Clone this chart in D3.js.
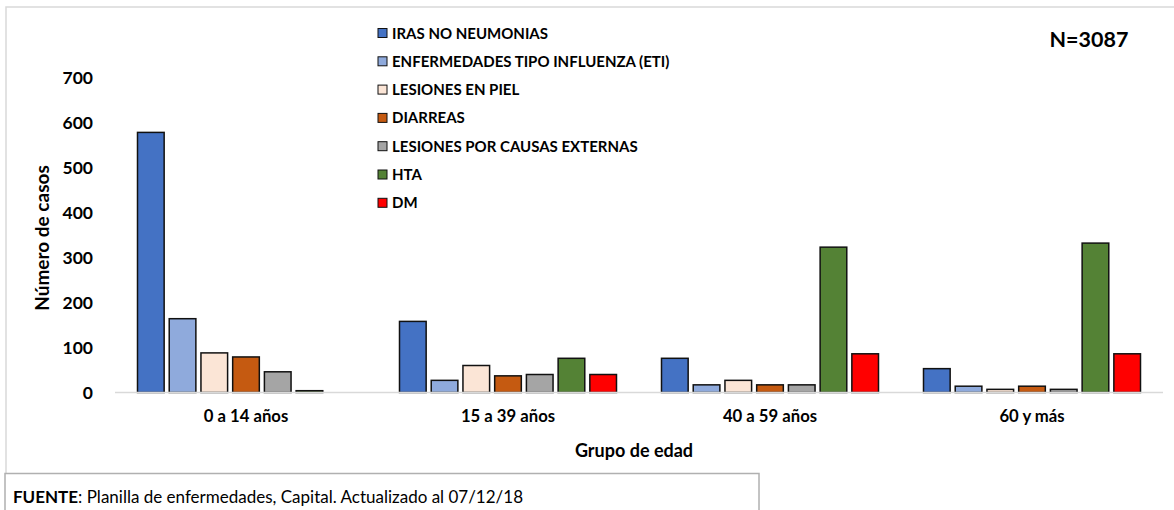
<!DOCTYPE html>
<html>
<head>
<meta charset="utf-8">
<script src="https://cdn.jsdelivr.net/npm/d3@7"></script>
<style>
  body { margin: 0; background: #fff; }
  svg { font-family: Lato, "Open Sans", sans-serif; }
</style>
</head>
<body>
<svg id="chart" width="1174" height="510"></svg>
<script>
const groups = ['0 a 14 años', '15 a 39 años', '40 a 59 años', '60 y más'];
const seriesNames = ['IRAS NO NEUMONIAS', 'ENFERMEDADES TIPO INFLUENZA (ETI)', 'LESIONES EN PIEL', 'DIARREAS', 'LESIONES POR CAUSAS EXTERNAS', 'HTA', 'DM'];
const seriesColors = ['#4472C4', '#8FAADC', '#FBE5D6', '#C55A11', '#A5A5A5', '#548235', '#FF0000'];
// values per series, one per age group
const iras = [578, 158, 76, 53];
const eti = [164, 27, 17, 14];
const piel = [88, 60, 27, 7];
const diarreas = [79, 37, 17, 14];
const externas = [46, 40, 17, 7];
const hta = [4, 76, 323, 332];
const dm = [0, 40, 86, 86];
const yTicks = [0, 100, 200, 300, 400, 500, 600, 700];

const allSeries = [iras, eti, piel, diarreas, externas, hta, dm];
const svg = d3.select('#chart');

// outer chart border
svg.append('rect').attr('x', 6).attr('y', 7).attr('width', 1180).attr('height', 520)
  .attr('fill', 'none').attr('stroke', '#d9d9d9').attr('stroke-width', 1.5);

const x0 = d3.scaleBand().domain(groups).range([115, 1163]);
const x1 = d3.scaleBand().domain(d3.range(seriesNames.length))
  .range([22.5, x0.bandwidth() - 22.5]).paddingInner(0.16);
const y = d3.scaleLinear().domain([0, 700]).range([392.5, 77.5]);

// y axis labels only
const yAxis = svg.append('g').attr('transform', 'translate(100,0)')
  .call(d3.axisLeft(y).tickValues(yTicks).tickSize(0).tickPadding(7));
yAxis.select('.domain').remove();
yAxis.selectAll('text').attr('font-family', 'Lato, sans-serif').attr('font-size', 17.5)
  .attr('font-weight', 'bold').attr('fill', '#000');

svg.append('text').attr('transform', 'translate(49,238) rotate(-90)')
  .attr('text-anchor', 'middle').attr('font-size', 19).attr('font-weight', 'bold')
  .text('Número de casos');

// bars
const data = [];
groups.forEach((g, gi) => {
  allSeries.forEach((s, si) => {
    if (s[gi] > 0) data.push({ group: g, si, value: s[gi] });
  });
});
svg.append('g').selectAll('rect').data(data).join('rect')
  .attr('x', d => x0(d.group) + x1(d.si))
  .attr('width', x1.bandwidth())
  .attr('y', d => y(d.value))
  .attr('height', d => y(0) - y(d.value))
  .attr('fill', d => seriesColors[d.si])
  .attr('stroke', '#111').attr('stroke-width', 1.5);

// baseline
svg.append('line').attr('x1', 115).attr('x2', 1163).attr('y1', y(0)).attr('y2', y(0))
  .attr('stroke', '#d9d9d9').attr('stroke-width', 1.5);

// x axis labels
const xAxis = svg.append('g').attr('transform', `translate(0,${y(0)})`)
  .call(d3.axisBottom(x0).tickSize(0).tickPadding(18));
xAxis.select('.domain').remove();
xAxis.selectAll('text').attr('font-family', 'Lato, sans-serif').attr('font-size', 16.7)
  .attr('font-weight', 'bold').attr('fill', '#000');

svg.append('text').attr('x', 634).attr('y', 457).attr('text-anchor', 'middle')
  .attr('font-size', 18).attr('font-weight', 'bold').text('Grupo de edad');

// legend
const legend = svg.append('g').selectAll('g').data(seriesNames).join('g')
  .attr('transform', (d, i) => `translate(378,${28.5 + i * 28.3})`);
legend.append('rect').attr('width', 9).attr('height', 9)
  .attr('fill', (d, i) => seriesColors[i]).attr('stroke', '#111').attr('stroke-width', 1);
legend.append('text').attr('x', 14).attr('y', 10).attr('font-size', 15)
  .attr('font-weight', 'bold').text(d => d);

svg.append('text').attr('x', 1089).attr('y', 47).attr('text-anchor', 'middle')
  .attr('font-size', 21.5).attr('font-weight', 'bold').text('N=3087');

// source box
svg.append('rect').attr('x', 5).attr('y', 473.5).attr('width', 754).attr('height', 45)
  .attr('fill', '#fff').attr('stroke', '#b0b0b0').attr('stroke-width', 1.5);
const src = svg.append('text').attr('x', 13).attr('y', 503).attr('font-size', 17);
src.append('tspan').attr('font-weight', 'bold').text('FUENTE');
src.append('tspan').text(': Planilla de enfermedades, Capital. Actualizado al 07/12/18');
</script>
</body>
</html>
